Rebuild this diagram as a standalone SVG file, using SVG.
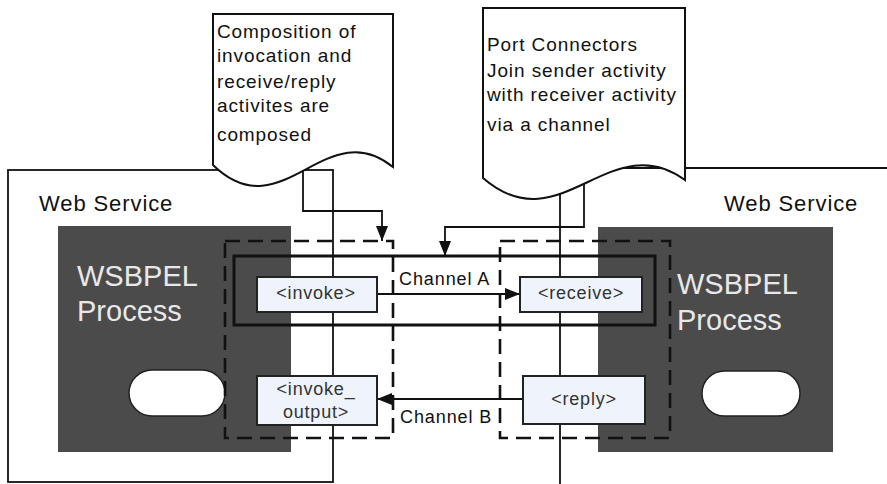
<svg xmlns="http://www.w3.org/2000/svg" width="887" height="484" viewBox="0 0 887 484">
<defs>
<style>
.ln{fill:none;stroke:#111;stroke-width:1.8}
.ws{fill:none;stroke:#111;stroke-width:1.8}
.dark{fill:#4b4b4b;stroke:none}
.oval{fill:#fff;stroke:#222;stroke-width:1.5}
.dash{fill:none;stroke:#111;stroke-width:2.6;stroke-dasharray:15 8}
.solid{fill:none;stroke:#111;stroke-width:3}
.act{fill:#eef3fc;stroke:#222;stroke-width:2}
.doc{fill:#fff;stroke:#111;stroke-width:2}
.t{font-family:"Liberation Sans",Arial,sans-serif;fill:#111}
.big{font-size:29px;fill:#e8e8e8}
.lbl{font-size:22px;letter-spacing:0.9px}
.note{font-size:19px;letter-spacing:0.9px}
.box{font-size:18px;letter-spacing:0.8px;fill:#333;text-anchor:middle}
.ch{font-size:18px;letter-spacing:0.9px}
</style>
<marker id="arr" viewBox="0 0 15 12" refX="15" refY="6" markerWidth="15" markerHeight="12" markerUnits="userSpaceOnUse" orient="auto">
<path d="M0,0 L15,6 L0,12 z" fill="#111"/>
</marker>
</defs>
<rect width="887" height="484" fill="#fff"/>

<g id="web-service-left">
<rect class="ws" x="8" y="170" width="325" height="312"/>
<text class="t lbl" x="39" y="211">Web Service</text>
</g>
<g id="web-service-right">
<path class="ws" d="M560,486 V168 H889"/>
<text class="t lbl" x="724" y="211">Web Service</text>
</g>

<g id="wsbpel-left">
<rect class="dark" x="58" y="226" width="233" height="226"/>
<text class="t big" x="77" y="286">WSBPEL</text>
<text class="t big" x="77" y="321">Process</text>
<rect class="oval" x="129" y="370" width="96" height="46" rx="23"/>
</g>
<g id="wsbpel-right">
<rect class="dark" x="598" y="227" width="235" height="225"/>
<text class="t big" x="677" y="294">WSBPEL</text>
<text class="t big" x="677" y="330">Process</text>
<rect class="oval" x="702" y="371" width="98" height="45" rx="22.5"/>
</g>

<g id="scope-left">
<rect class="dash" x="225" y="241" width="168" height="197"/>
</g>
<g id="scope-right">
<rect class="dash" x="500" y="241" width="170" height="197"/>
</g>
<g id="port-connector">
<rect class="solid" x="234" y="256" width="421" height="69"/>
</g>

<g id="note-composition">
<path class="doc" d="M213,14 H393 V167 C326,112 281.6,232 213,165 Z"/>
<text class="t note" x="217" y="38">Composition of</text>
<text class="t note" x="217" y="62">invocation and</text>
<text class="t note" x="217" y="88">receive/reply</text>
<text class="t note" x="217" y="112">activites are</text>
<text class="t note" x="217" y="141">composed</text>
</g>
<g id="note-port-connectors">
<path class="doc" d="M483,8 H685 V180 C610,125 560,245 483,178 Z"/>
<text class="t note" x="487" y="51">Port Connectors</text>
<text class="t note" x="487" y="77">Join sender activity</text>
<text class="t note" x="487" y="101">with receiver activity</text>
<text class="t note" x="487" y="131">via a channel</text>
</g>

<g id="connectors">
<path class="ln" d="M303,171 V211 H382 V241" marker-end="url(#arr)"/>
<path class="ln" d="M584,184 V227 H445 V256" marker-end="url(#arr)"/>
<path class="ln" d="M377,294 H520" marker-end="url(#arr)"/>
<path class="ln" d="M523,399 H377" marker-end="url(#arr)"/>
<text class="t ch" x="399" y="285">Channel A</text>
<text class="t ch" x="400" y="423">Channel B</text>
</g>

<g id="invoke">
<rect class="act" x="257" y="277" width="120" height="35"/>
<text class="t box" x="316" y="299">&lt;invoke&gt;</text>
</g>
<g id="receive">
<rect class="act" x="520" y="277" width="122" height="35"/>
<text class="t box" x="581" y="299">&lt;receive&gt;</text>
</g>
<g id="invoke-output">
<rect class="act" x="257" y="376" width="120" height="49"/>
<text class="t box" x="316" y="395">&lt;invoke_</text>
<text class="t box" x="316" y="418">output&gt;</text>
</g>
<g id="reply">
<rect class="act" x="523" y="376" width="122" height="48"/>
<text class="t box" x="584" y="405">&lt;reply&gt;</text>
</g>
</svg>
